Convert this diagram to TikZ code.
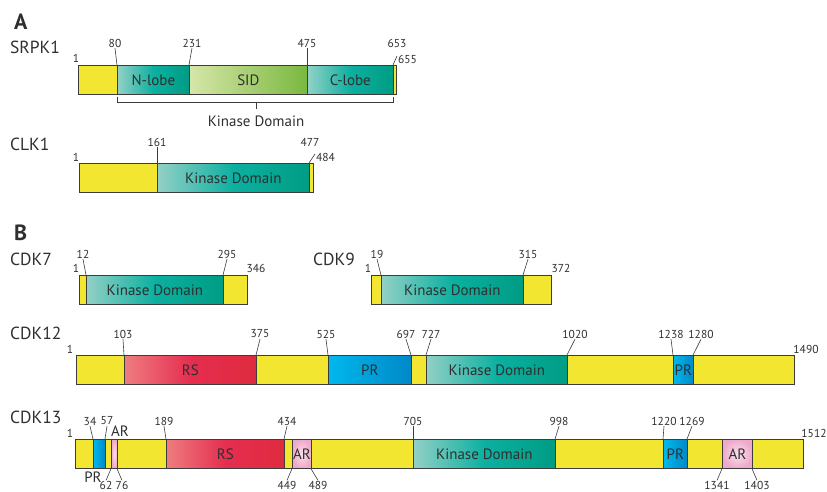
\documentclass[tikz,border=0pt]{standalone}
\usepackage{fontspec}
\setmainfont{PT Sans}
\definecolor{yelc}{HTML}{F2E631}
\definecolor{bordc}{HTML}{3C3C3C}
\definecolor{txtc}{HTML}{2F2F2F}
\definecolor{kinL}{HTML}{93D0C6}
\definecolor{kinM}{HTML}{0CB0A0}
\definecolor{kinR}{HTML}{009C84}
\definecolor{sidL}{HTML}{D6E6A8}
\definecolor{sidR}{HTML}{7AB83F}
\definecolor{rsL}{HTML}{EE7D7F}
\definecolor{rsM}{HTML}{E52E50}
\definecolor{rsR}{HTML}{DF2B3E}
\definecolor{prL}{HTML}{00B8EC}
\definecolor{prR}{HTML}{0088C8}
\definecolor{arI}{HTML}{FAE0EC}
\definecolor{arO}{HTML}{EEA9CA}
\tikzset{
 seg/.style={draw=bordc, line width=0.7pt, minimum height=29pt, inner sep=0pt, anchor=north west, font=\fontsize{15}{17}\selectfont, text=txtc},
 yel/.style={fill=yelc},
 kin/.style={left color=kinL, right color=kinR, middle color=kinM},
 sid/.style={left color=sidL, right color=sidR},
 rs/.style={left color=rsL, right color=rsR, middle color=rsM},
 pr/.style={left color=prL, right color=prR},
 ar/.style={inner color=arI, outer color=arO},
 num/.style={font=\fontsize{11.5}{12}\selectfont, text=txtc, inner sep=0.8pt},
 inlab/.style={font=\fontsize{15}{17}\selectfont, text=txtc, inner sep=0pt},
 lead/.style={draw=bordc, line width=0.6pt},
 title/.style={font=\fontsize{17.5}{19}\selectfont, text=txtc, anchor=west, inner sep=0pt},
 paneltitle/.style={font=\fontsize{22}{24}\selectfont\bfseries, text=txtc, anchor=west, inner sep=0pt},
}
\newcommand\sg[6]{\node[seg,#5,minimum width={(#3)-(#2)}] (#1) at (#2,#4) {#6};}
\begin{document}
\begin{tikzpicture}[x=1pt,y=-1pt]
\useasboundingbox (0,0) rectangle (827,492);
% ---------- A ----------
\node[paneltitle] (tA) at (14,22) {A};
\node[title] (tS) at (10,47.5) {SRPK1};
\sg{s1}{78}{117}{65}{yel}{}
\sg{s2}{117}{189}{65}{kin}{N-lobe}
\sg{s3}{189}{307}{65}{sid}{SID}
\sg{s4}{307}{393}{65}{kin}{C-lobe}
\sg{s5}{393}{395.5}{65}{yel}{}
\node[num] (a1) at (76,58) {1};
\node[num] (a80) at (115,43) {80};
\node[num] (a231) at (192,43) {231};
\node[num] (a475) at (307,43) {475};
\node[num] (a653) at (397,43) {653};
\node[num,anchor=west] (a655) at (397,59) {655};
\draw[lead] (a80.south) -- (s2.north west);
\draw[lead] (a231.south) -- (s3.north west);
\draw[lead] (a475.south) -- (s4.north west);
\draw[lead] (s5.north west) -- ([yshift=3pt]a655.west);
\draw[lead] ([yshift=-2pt]s2.south west) -- ++(0,6) -| ([yshift=-2pt]s4.south east);
\coordinate (bm) at (256,102);
\draw[lead] (bm) -- ++(0,7.5);
\node[inlab] (kd) at (256,121) {Kinase Domain};
\node[title] (tC) at (10,144) {CLK1};
\sg{c1}{79}{157}{163}{yel}{}
\sg{c2}{157}{309}{163}{kin}{Kinase Domain}
\sg{c3}{309}{313}{163}{yel}{}
\node[num] (b1) at (76,157) {1};
\node[num] (b161) at (157,142) {161};
\node[num] (b477) at (310,142) {477};
\node[num,anchor=west] (b484) at (315,157) {484};
\draw[lead] (b161.south) -- (c2.north west);
\draw[lead] (c3.north west) -- ([yshift=3pt]b484.west);
% ---------- B ----------
\node[paneltitle] (tB) at (14,233) {B};
\node[title] (t7) at (10,259) {CDK7};
\sg{d1}{79}{86}{275}{yel}{}
\sg{d2}{86}{223}{275}{kin}{Kinase Domain}
\sg{d3}{223}{247}{275}{yel}{}
\node[num] (e1) at (76,268) {1};
\node[num] (e12) at (83,254) {12};
\node[num] (e295) at (227,254) {295};
\node[num] (e346) at (256,268) {346};
\draw[lead] (e12.south) -- (d2.north west);
\draw[lead] (e295.south) -- (d3.north west);
\node[title] (t9) at (313,259) {CDK9};
\sg{f1}{371}{381}{275}{yel}{}
\sg{f2}{381}{523}{275}{kin}{Kinase Domain}
\sg{f3}{523}{551}{275}{yel}{}
\node[num] (g1) at (368,268) {1};
\node[num] (g19) at (377,254) {19};
\node[num] (g315) at (528,254) {315};
\node[num] (g372) at (561,268) {372};
\draw[lead] (g19.south) -- (f2.north west);
\draw[lead] (g315.south) -- (f3.north west);
% CDK12
\node[title] (t12) at (10,333) {CDK12};
\sg{h1}{76}{124}{355}{yel}{}
\sg{h2}{124}{256}{355}{rs}{RS}
\sg{h3}{256}{328}{355}{yel}{}
\sg{h4}{328}{411}{355}{pr}{PR}
\sg{h5}{411}{426}{355}{yel}{}
\sg{h6}{426}{567}{355}{kin}{Kinase Domain}
\sg{h7}{567}{673}{355}{yel}{}
\sg{h8}{673}{693}{355}{pr}{PR}
\sg{h9}{693}{794}{355}{yel}{}
\node[num] (i1) at (70,349) {1};
\node[num] (i1490) at (806,349) {1490};
\node[num] (i103) at (123,334) {103};
\node[num] (i375) at (260,334) {375};
\node[num] (i525) at (326,334) {525};
\node[num] (i697) at (406,334) {697};
\node[num] (i727) at (431,334) {727};
\node[num] (i1020) at (575,334) {1020};
\node[num] (i1238) at (671,334) {1238};
\node[num] (i1280) at (701,334) {1280};
\draw[lead] (i103.south) -- (h2.north west);
\draw[lead] (i375.south) -- (h3.north west);
\draw[lead] (i525.south) -- (h4.north west);
\draw[lead] (i697.south) -- (h5.north west);
\draw[lead] (i727.south) -- (h6.north west);
\draw[lead] (i1020.south) -- (h7.north west);
\draw[lead] (i1238.south) -- (h8.north west);
\draw[lead] (i1280.south) -- (h9.north west);
% CDK13
\node[title] (t13) at (10,417) {CDK13};
\sg{k1}{75}{93}{439}{yel}{}
\sg{k2}{93}{105}{439}{pr}{}
\sg{k3}{105}{111}{439}{yel}{}
\sg{k4}{111}{117}{439}{ar}{}
\sg{k5}{117}{166}{439}{yel}{}
\sg{k6}{166}{284}{439}{rs}{RS}
\sg{k7}{284}{292}{439}{yel}{}
\sg{k8}{292}{311}{439}{ar}{AR}
\sg{k9}{311}{413}{439}{yel}{}
\sg{k10}{413}{555}{439}{kin}{Kinase Domain}
\sg{k11}{555}{663}{439}{yel}{}
\sg{k12}{663}{687}{439}{pr}{PR}
\sg{k13}{687}{722}{439}{yel}{}
\sg{k14}{722}{752}{439}{ar}{AR}
\sg{k15}{752}{803}{439}{yel}{}
\node[num] (m1) at (70,433) {1};
\node[num] (m1512) at (814,433) {1512};
\node[num] (m34) at (90,421) {34};
\node[num] (m57) at (107,421) {57};
\node[inlab] (mAR) at (120,431) {AR};
\node[num] (m189) at (164,421) {189};
\node[num] (m434) at (287,421) {434};
\node[num] (m705) at (413,421) {705};
\node[num] (m998) at (559,421) {998};
\node[num] (m1220) at (664,421) {1220};
\node[num] (m1269) at (692,421) {1269};
\node[inlab] (mPR) at (93,477) {PR};
\node[num] (m62) at (106,485.5) {62};
\node[num] (m76) at (122,485.5) {76};
\node[num] (m449) at (287,485.5) {449};
\node[num] (m489) at (318,485.5) {489};
\node[num] (m1341) at (717,485.5) {1341};
\node[num] (m1403) at (757,485.5) {1403};
\draw[lead] (m34.south) -- (k2.north west);
\draw[lead] (m57.south) -- (k3.north west);
\draw[lead] (m189.south) -- (k6.north west);
\draw[lead] (m434.south) -- (k7.north west);
\draw[lead] (m705.south) -- (k10.north west);
\draw[lead] (m998.south) -- (k11.north west);
\draw[lead] (m1220.south) -- (k12.north west);
\draw[lead] (m1269.south) -- (k13.north west);
\draw[lead] (k4.south west) -- (m62.north);
\draw[lead] (k5.south west) -- (m76.north);
\draw[lead] (k8.south west) -- (m449.north);
\draw[lead] (k9.south west) -- (m489.north);
\draw[lead] (k14.south west) -- (m1341.north);
\draw[lead] (k15.south west) -- (m1403.north);
\end{tikzpicture}
\end{document}
